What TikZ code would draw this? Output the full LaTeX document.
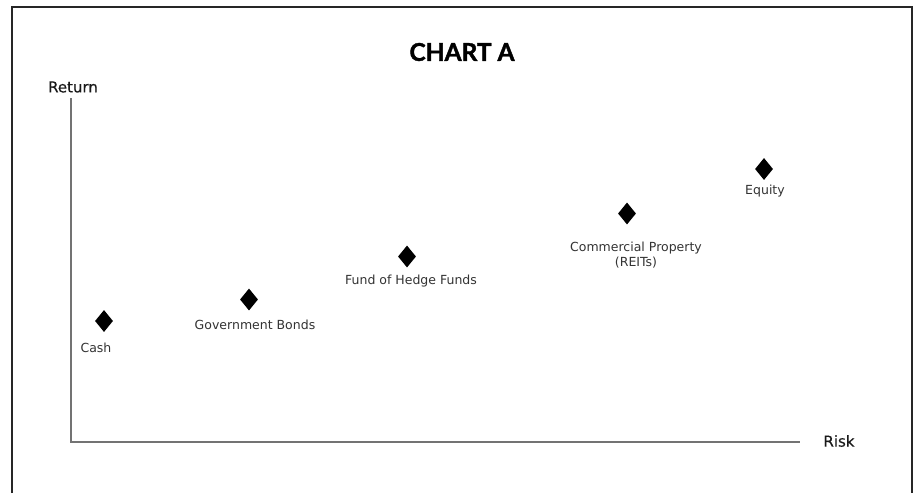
\documentclass[tikz,border=0pt]{standalone}
\usepackage{fontspec}
\usepackage{tikz}
\usetikzlibrary{shapes.geometric}
\newfontfamily\labelfont{DejaVu Sans}
\newfontfamily\axisfont[FakeBold=0.4]{DejaVu Sans}
\newfontfamily\titlefont[BoldFeatures={FakeBold=1.6}]{Lato}

\begin{document}
\begin{tikzpicture}
	 [x=1pt,y=-1pt,
	  pt/.style={diamond,fill=black,inner sep=0pt,minimum width=18pt,minimum height=22pt},
	  lbl/.style={font=\labelfont\fontsize{12.5}{15}\selectfont,text=black!80,inner sep=0pt,align=center},
	  axlbl/.style={font=\axisfont\fontsize{15}{18}\selectfont,text=black!90,inner sep=0pt}]
	\useasboundingbox (0,0) rectangle (917,493);

	% open frame
	\draw[line width=2.5pt,black!85] (12,493) -- (12,7) -- (912,7) -- (912,493);

	\node[font=\titlefont\bfseries\fontsize{24.5}{28}\selectfont,inner sep=0pt] (title) at (462,52) {CHART A};

	% axes
	\coordinate (O) at (71,441.5);
	\coordinate (ytop) at (71,98);
	\coordinate (xend) at (800,441.5);
	\draw[line width=2pt,black!55] (ytop) -- (O) -- (xend);

	\node[axlbl] (L1) at (73,87) {Return};
	\node[axlbl] (L2) at (839,441) {Risk};

	% points
	\node[pt] (cash) at (104,321) {};
	\node[pt] (gov) at (249,299.5) {};
	\node[pt] (fohf) at (407,256.5) {};
	\node[pt] (reit) at (627,213.5) {};
	\node[pt] (eq) at (764,169) {};

	\node[lbl] (a1) at (96,348) {Cash};
	\node[lbl] (a2) at (255,325) {Government Bonds};
	\node[lbl] (a3) at (411,281) {Fund of Hedge Funds};
	\node[lbl] (a4) at (636,255) {Commercial Property\\(REITs)};
	\node[lbl] (a5) at (765,191) {Equity};

\end{tikzpicture}
\end{document}
